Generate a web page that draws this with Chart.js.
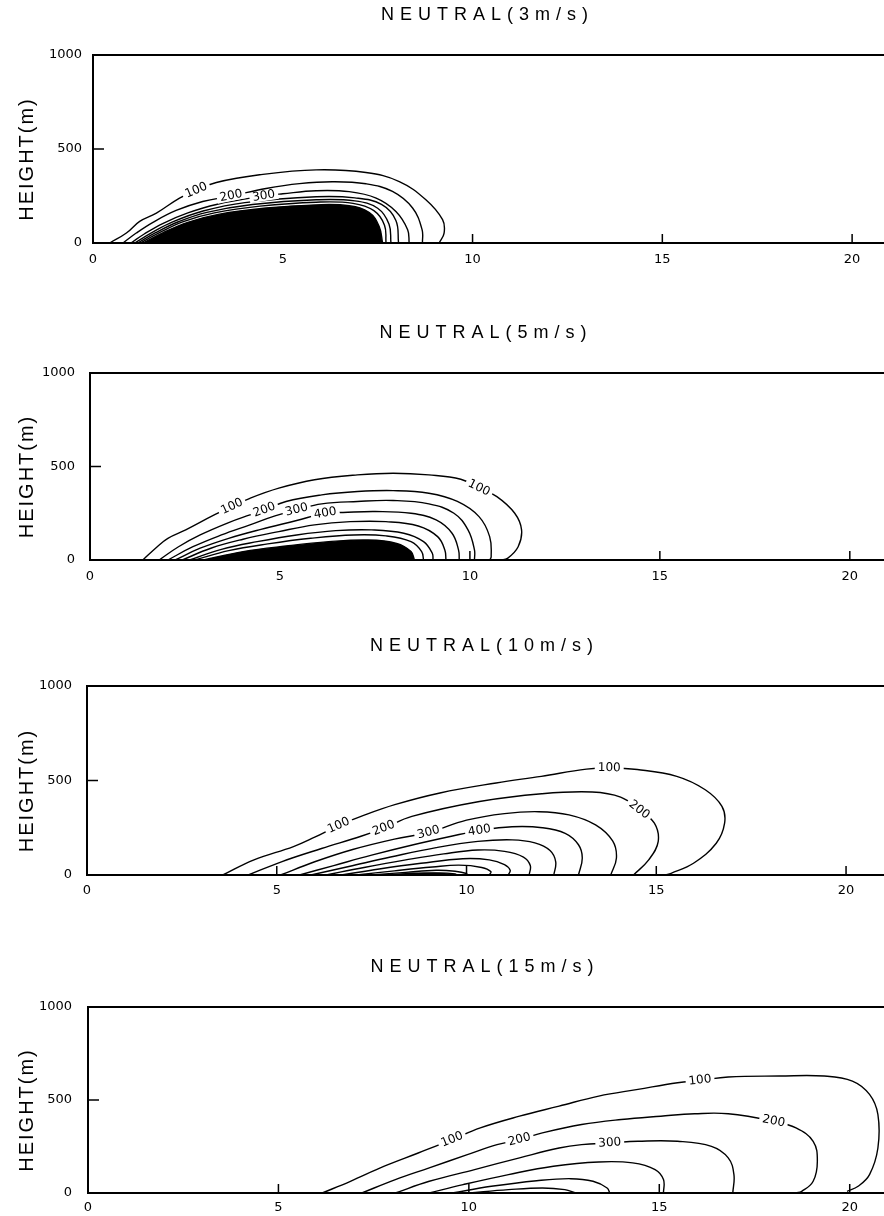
<!DOCTYPE html>
<html><head><meta charset="utf-8">
<script src="https://cdn.jsdelivr.net/npm/chart.js@4.4.1/dist/chart.umd.min.js"></script>
<style>
html,body{margin:0;padding:0;background:#fff;width:884px;height:1216px;overflow:hidden;position:relative}
canvas{position:absolute;left:0}
</style></head><body>
<canvas id="c1" width="884" height="273" style="top:0px"></canvas>
<canvas id="c2" width="884" height="272" style="top:318px"></canvas>
<canvas id="c3" width="884" height="274" style="top:631px"></canvas>
<canvas id="c4" width="884" height="264" style="top:952px"></canvas>
<script>
// ---- chart texts and ticks ----
const titles = ['NEUTRAL(3m/s)', 'NEUTRAL(5m/s)', 'NEUTRAL(10m/s)', 'NEUTRAL(15m/s)'];
const yAxisTitle = 'HEIGHT(m)';
const xTickValues = [0, 5, 10, 15, 20];
const yTickValues = [0, 500, 1000];
const levels = ['100', '200', '300', '400', '500', '600', '700', '800', '900'];

// ---- contour lines: [distance (km), height (m)] ----
// Panel 1: 3 m/s
const p1_100 = [[0.44,0],[0.88,53],[1.23,115],[1.67,159],[2.28,239],[2.72,280],[3.25,322],[4.39,363],[5.88,389],[7.19,375],[8.07,327],[8.77,230],[9.21,124],[9.25,53],[9.12,0]];
const p1_200 = [[0.79,0],[1.14,53],[1.58,110],[2.19,173],[2.89,221],[3.64,250],[4.56,290],[5.44,316],[6.32,326],[7.19,315],[7.89,274],[8.42,186],[8.67,71],[8.68,0]];
const p1_300 = [[1.0,0],[1.35,48],[1.85,105],[2.5,160],[3.25,205],[4.50,250],[5.0,262],[5.88,278],[6.75,273],[7.46,239],[7.98,168],[8.29,71],[8.33,0]];
const p1_400 = [[1.1,0],[1.55,55],[2.1,112],[2.9,170],[4.0,215],[5.88,246],[6.9,240],[7.6,205],[7.98,120],[8.05,0]];
const p1_500 = [[1.18,0],[1.65,55],[2.25,113],[3.0,163],[4.2,205],[5.88,230],[6.9,224],[7.5,185],[7.8,100],[7.85,0]];
const p1_600 = [[1.25,0],[1.75,55],[2.4,115],[3.2,160],[4.4,196],[5.88,217],[6.85,211],[7.4,172],[7.68,95],[7.72,0]];
const p1_core = [[1.32,0],[1.85,55],[2.5,110],[3.3,152],[4.56,186],[5.88,203],[6.75,198],[7.28,162],[7.54,88],[7.63,0]];

// Panel 2: 5 m/s
const p2_100 = [[1.39,0],[1.77,71],[2.05,116],[2.52,161],[3.27,241],[3.74,286],[4.21,330],[4.97,384],[5.91,429],[7.04,455],[7.98,464],[8.92,455],[9.76,432],[10.24,385],[10.71,339],[11.18,250],[11.36,161],[11.27,71],[10.99,9],[10.80,0]];
const p2_200 = [[1.82,0],[2.33,71],[2.90,134],[3.65,200],[4.21,241],[4.59,268],[5.16,313],[6.10,348],[7.04,366],[7.98,371],[8.92,357],[9.67,313],[10.24,232],[10.52,125],[10.56,18],[10.52,0]];
const p2_300 = [[2.05,0],[2.71,71],[3.46,134],[4.21,188],[4.87,236],[5.44,268],[6.10,300],[7.04,313],[7.98,318],[8.92,300],[9.58,250],[9.95,161],[10.12,54],[10.12,0]];
const p2_400 = [[2.24,0],[2.90,63],[3.65,116],[4.50,164],[5.44,211],[6.19,250],[6.66,254],[7.51,259],[8.45,250],[9.11,214],[9.53,143],[9.70,54],[9.72,0]];
const p2_500 = [[2.43,0],[3.18,63],[4.03,111],[4.97,152],[5.91,188],[6.85,205],[7.79,205],[8.64,182],[9.15,125],[9.34,54],[9.37,0]];
const p2_600 = [[2.62,0],[3.46,57],[4.40,98],[5.44,134],[6.47,157],[7.41,161],[8.26,143],[8.78,98],[9.01,36],[9.03,0]];
const p2_700 = [[2.76,0],[3.65,50],[4.68,86],[5.81,116],[6.94,134],[7.79,129],[8.45,98],[8.73,45],[8.78,0]];
const p2_core = [[2.99,0],[4.03,45],[5.16,75],[6.28,98],[7.32,107],[8.07,89],[8.45,45],[8.54,0]];

// Panel 3: 10 m/s
const p3_100 = [[3.58,0],[4.40,80],[5.44,150],[6.0,200],[6.63,262],[7.22,310],[8.11,372],[9.30,434],[10.78,487],[11.97,522],[13.16,560],[13.76,566],[14.50,558],[15.54,522],[16.29,451],[16.73,363],[16.80,274],[16.58,168],[15.98,62],[15.39,9],[15.24,0]];
const p3_200 = [[4.25,0],[5.14,71],[6.18,140],[7.22,205],[7.82,248],[8.56,310],[10.34,389],[11.98,430],[13.31,439],[14.06,412],[14.55,345],[14.95,274],[15.05,177],[14.8,80],[14.4,0]];
const p3_300 = [[5.1,0],[6.0,70],[7.0,135],[8.1,190],[9.0,225],[10.0,290],[11.0,325],[11.9,335],[12.7,318],[13.4,265],[13.85,180],[13.95,90],[13.8,0]];
const p3_400 = [[5.6,0],[6.5,50],[7.5,105],[8.6,160],[9.6,205],[10.34,235],[11.2,255],[12.0,250],[12.6,220],[12.95,160],[13.05,90],[12.95,0]];
const p3_500 = [[5.9,0],[6.9,45],[8.0,95],[9.2,145],[10.3,178],[11.2,186],[11.8,170],[12.2,130],[12.35,70],[12.3,0]];
const p3_600 = [[6.3,0],[7.3,40],[8.4,80],[9.4,112],[10.3,132],[11.0,125],[11.5,95],[11.68,50],[11.65,0]];
const p3_700 = [[6.7,0],[7.7,32],[8.8,62],[9.9,86],[10.6,80],[11.0,55],[11.15,25],[11.1,0]];
const p3_800 = [[7.1,0],[8.1,22],[9.1,42],[9.8,52],[10.4,40],[10.64,18],[10.6,0]];
const p3_900 = [[7.5,0],[8.4,14],[9.2,25],[9.7,20],[10.0,8],[10.0,0]];
const p3_core = [[7.9,0],[8.6,9],[9.3,11],[9.7,5],[9.75,0]];

// Panel 4: 15 m/s
const p4_100 = [[6.15,0],[6.89,63],[7.78,144],[8.67,215],[9.56,287],[10.30,350],[11.33,413],[12.37,467],[13.41,521],[14.44,557],[15.48,593],[16.07,606],[16.81,624],[18.15,629],[19.33,629],[20.07,602],[20.52,530],[20.74,422],[20.74,242],[20.52,99],[20.22,36],[19.93,9]];
const p4_200 = [[7.19,0],[8.07,72],[8.96,135],[9.96,206],[10.74,260],[11.33,287],[11.93,323],[12.96,368],[14.0,395],[15.04,413],[15.93,426],[16.81,426],[18.0,386],[18.59,350],[19.04,278],[19.15,171],[19.04,63],[18.74,9],[18.59,0]];
const p4_300 = [[8.07,0],[8.96,63],[10.15,126],[11.33,189],[12.37,242],[12.96,260],[13.70,269],[14.44,278],[15.48,278],[16.37,251],[16.81,189],[16.96,99],[16.93,0]];
const p4_400 = [[8.96,0],[9.85,45],[11.04,99],[12.22,144],[13.41,167],[14.30,162],[14.89,126],[15.11,72],[15.11,0]];
const p4_500 = [[9.56,0],[10.59,36],[11.78,66],[12.67,77],[13.26,63],[13.63,27],[13.70,0]];
const p4_600 = [[10.0,0],[11.04,18],[11.93,27],[12.52,18],[12.81,0]];

// contour label anchors: [contour index, point index]
const panels = [
  { id: 'c1', title: titles[0], xMax: 20.84, yAxisW: 93, yPad: 11, xAxisH: 30, xPad: 9,
    contours: [p1_100, p1_200, p1_300, p1_400, p1_500, p1_600], core: p1_core,
    labels: [[0,5],[1,5],[2,5]] },
  { id: 'c2', title: titles[1], xMax: 20.9, yAxisW: 90, yPad: 15, xAxisH: 30, xPad: 9,
    contours: [p2_100, p2_200, p2_300, p2_400, p2_500, p2_600, p2_700], core: p2_core,
    labels: [[0,5],[0,13],[1,5],[2,5],[3,5]] },
  { id: 'c3', title: titles[2], xMax: 21.0, yAxisW: 87, yPad: 15, xAxisH: 30, xPad: 8,
    contours: [p3_100, p3_200, p3_300, p3_400, p3_500, p3_600, p3_700, p3_800, p3_900], core: p3_core,
    labels: [[0,4],[0,11],[1,4],[1,10],[2,4],[3,5]] },
  { id: 'c4', title: titles[3], xMax: 20.9, yAxisW: 88, yPad: 16, xAxisH: 23, xPad: 7,
    contours: [p4_100, p4_200, p4_300, p4_400, p4_500, p4_600], core: null,
    labels: [[0,4],[0,11],[1,5],[1,12],[2,6]] }
];

Chart.defaults.font.family = '"DejaVu Sans", sans-serif';
Chart.defaults.color = '#000';

const spacingPlugin = {
  id: 'spacing',
  beforeDraw(chart) {
    const tb = chart.titleBlock;
    if (tb && !tb._wrapped) {
      const orig = tb.draw.bind(tb);
      tb.draw = function () { const c = chart.ctx; c.save(); c.letterSpacing = '6px'; c.translate(-1, 0); orig(); c.restore(); };
      tb._wrapped = true;
    }
    const ys = chart.scales.y;
    if (ys && !ys._wrapped) {
      const o = ys.drawTitle.bind(ys);
      ys.drawTitle = function () { const c = chart.ctx; c.save(); c.letterSpacing = '2px'; c.translate(0, 10); o(); c.restore(); };
      ys._wrapped = true;
    }
  }
};

const innerTicks = {
  id: 'innerTicks',
  afterDraw(chart) {
    const {ctx, chartArea: ca, scales: {x, y}} = chart;
    ctx.save();
    ctx.strokeStyle = '#000'; ctx.lineWidth = 1.5;
    ctx.beginPath();
    xTickValues.forEach(v => { if (v > 0) { const px = x.getPixelForValue(v); ctx.moveTo(px, ca.bottom); ctx.lineTo(px, ca.bottom - 9); } });
    yTickValues.forEach(v => { if (v > 0 && v < 1000) { const py = y.getPixelForValue(v); ctx.moveTo(ca.left, py); ctx.lineTo(ca.left + 11, py); } });
    ctx.stroke();
    ctx.restore();
  }
};

function labelPlugin(panel) {
  return {
    id: 'contourLabels',
    afterDatasetsDraw(chart) {
      const {ctx, scales: {x, y}} = chart;
      ctx.save();
      ctx.font = '12px "DejaVu Sans"';
      ctx.textAlign = 'center'; ctx.textBaseline = 'middle';
      panel.labels.forEach(([ci, pi]) => {
        const pts = panel.contours[ci];
        const p = pts[pi], a = pts[pi - 1], b = pts[pi + 1];
        const px = x.getPixelForValue(p[0]), py = y.getPixelForValue(p[1]);
        let ang = Math.atan2(y.getPixelForValue(b[1]) - y.getPixelForValue(a[1]), x.getPixelForValue(b[0]) - x.getPixelForValue(a[0]));
        if (ang > Math.PI / 2) ang -= Math.PI;
        if (ang < -Math.PI / 2) ang += Math.PI;
        const t = levels[ci];
        const w = ctx.measureText(t).width;
        ctx.save();
        ctx.translate(px, py); ctx.rotate(ang);
        ctx.fillStyle = '#fff'; ctx.fillRect(-w / 2 - 3, -5, w + 6, 10);
        ctx.fillStyle = '#000'; ctx.fillText(t, 0, 0);
        ctx.restore();
      });
      ctx.restore();
    }
  };
}

panels.forEach(panel => {
  const datasets = panel.contours.map((c, i) => ({
    label: levels[i],
    data: c.map(([x, y]) => ({x, y})),
    showLine: true, borderColor: '#000', borderWidth: 1.4, pointRadius: 0, tension: 0.4, fill: false
  }));
  if (panel.core) {
    datasets.push({
      label: 'core', data: panel.core.map(([x, y]) => ({x, y})),
      showLine: true, borderColor: '#000', backgroundColor: '#000', borderWidth: 1.4, pointRadius: 0, tension: 0.4, fill: 'origin'
    });
  }
  new Chart(document.getElementById(panel.id), {
    type: 'scatter',
    data: { datasets },
    options: {
      responsive: false, animation: false, devicePixelRatio: 1,
      layout: { padding: 0, autoPadding: false },
      plugins: {
        legend: { display: false }, tooltip: { enabled: false },
        title: { display: true, text: panel.title, fullSize: false, color: '#000',
                 font: { family: '"Liberation Sans", sans-serif', size: 18, weight: 'normal', lineHeight: 1.2 },
                 padding: { top: 4.2, bottom: 29.2 } }
      },
      scales: {
        x: {
          type: 'linear', position: 'bottom', min: 0, max: panel.xMax,
          grid: { display: false, drawTicks: false },
          border: { display: true, color: '#000', width: 2 },
          ticks: { stepSize: 5, includeBounds: false, padding: panel.xPad, maxRotation: 0, color: '#000', font: { size: 13 },
                   callback: v => String(v) },
          afterFit(s) { s.height = panel.xAxisH; s.paddingLeft = 0; s.paddingRight = 0; }
        },
        x2: {
          type: 'linear', position: 'top', min: 0, max: panel.xMax, display: true,
          grid: { display: false, drawTicks: false }, ticks: { display: false },
          border: { display: true, color: '#000', width: 2 },
          afterFit(s) { s.height = 0; s.paddingLeft = 0; s.paddingRight = 0; }
        },
        y: {
          type: 'linear', position: 'left', min: 0, max: 1000,
          grid: { display: false, drawTicks: false },
          border: { display: true, color: '#000', width: 2 },
          ticks: { stepSize: 500, padding: panel.yPad, color: '#000', font: { size: 13 }, callback: v => String(v) },
          title: { display: true, text: yAxisTitle, color: '#000', padding: { top: 15, bottom: 0 },
                   font: { family: '"Liberation Sans", sans-serif', size: 20, weight: 'normal', lineHeight: 1.2 } },
          afterFit(s) { s.width = panel.yAxisW; s.paddingTop = 0; s.paddingBottom = 0; }
        }
      }
    },
    plugins: [spacingPlugin, innerTicks, labelPlugin(panel)]
  });
});
</script>
</body></html>
